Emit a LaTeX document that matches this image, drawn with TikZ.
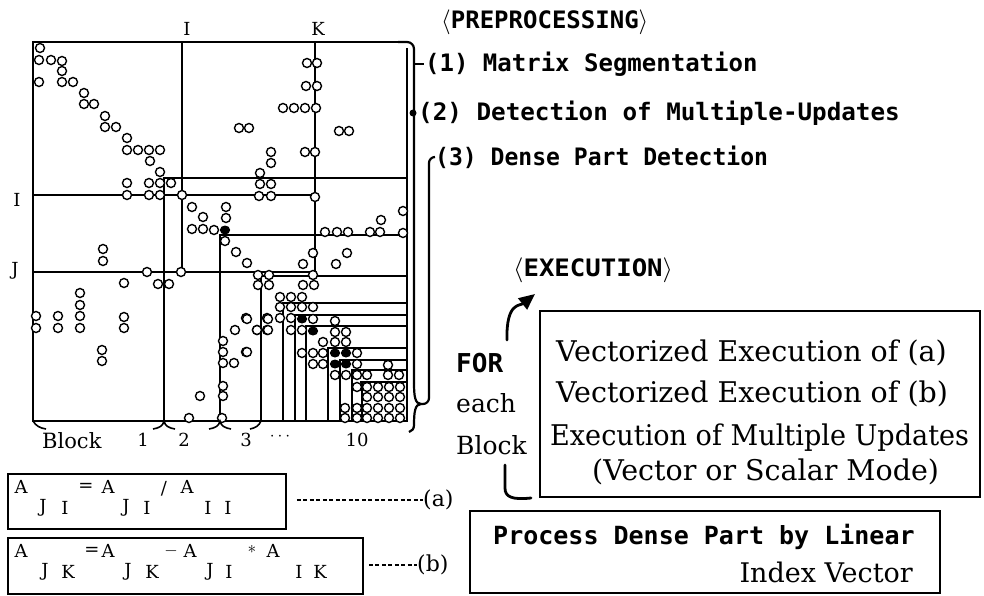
\documentclass[tikz,border=0pt]{standalone}
\usepackage{fontspec}
\usepackage{graphicx}
\usetikzlibrary{arrows.meta}
\newfontfamily\tw{DejaVu Sans Mono}
\newfontfamily\sr{DejaVu Serif}
\begin{document}
\begin{tikzpicture}[x=1pt,y=-1pt,
  mat/.style={line width=1.6pt},
  frm/.style={line width=2.2pt},
  oc/.style={line width=1.4pt, fill=white},
  fc/.style={fill=black},
  mono/.style={font=\tw\bfseries\fontsize{24}{28}\selectfont, inner sep=0pt, anchor=west},
  ser/.style={font=\sr\fontsize{28.5}{32}\selectfont, inner sep=0pt, anchor=west},
  lab/.style={font=\sr\fontsize{18}{22}\selectfont, inner sep=0pt},
  bigbox/.style={draw, line width=2.6pt, inner sep=0pt},
  eqbox/.style={draw, line width=1.8pt, inner sep=0pt, anchor=north west},
  eqt/.style={font=\sr\fontsize{18}{20}\selectfont, inner sep=0pt},
  hook/.style={line width=2.8pt, line cap=round}
]
\useasboundingbox (0,0) rectangle (984,596);

% ---------- matrix frame ----------
\draw[frm] (407,48) -- (407,421) -- (33,421) -- (33,42) -- (400,42);
\draw[frm, rounded corners=7pt] (398,42) -- (414,42) -- (414,383);
% brace for dense part
\draw[frm] (414,383) .. controls (414,396) and (415,404) .. (421,404)
           .. controls (415,404) and (414,412) .. (414,425)
           .. controls (414,429) and (412,431) .. (409,432);
% line to (3)
\draw[frm, rounded corners=6pt] (421,404) -- (429,404) -- (429,157) -- (435,157);
% tick to (1)
\draw[frm] (414,64) -- (424,64);

% ---------- matrix lines ----------
\draw[mat] (182,42) -- (182,272);
\draw[mat] (315,42) -- (315,275);
\draw[mat] (33,195) -- (315,195);
\draw[mat] (33,272) -- (313,272);
\foreach \vx/\hy in {164/178, 220/235, 261/276, 283/303, 295/315, 306/326, 328/348, 340/360, 352/370}{
  \draw[mat] (\vx,421) -- (\vx,\hy) -- (407,\hy);
}
\draw[mat] (360,382) -- (407,382);
\draw[mat] (362,382) -- (362,421);

% ---------- open circles ----------
\foreach \cx/\cy in {
 40/48, 39/60, 51/60, 62/61, 62/71, 39/82, 62/82, 73/82, 84/93, 84/104, 94/104,
 105/116, 105/127, 116/127, 127/138, 127/150, 138/150, 149/150, 160/150, 150/161,
 160/172, 127/183, 149/183, 160/183, 171/183, 127/195, 149/195, 160/195, 182/195,
 192/207, 203/217, 192/229, 203/229, 214/230, 226/207, 226/218, 225/241, 236/252, 247/263,
 103/249, 103/261, 147/272, 181/272, 158/284, 169/284, 124/283, 80/293, 80/305,
 36/316, 58/316, 80/316, 124/317, 36/328, 58/328, 80/328, 124/328, 102/350, 102/361,
 200/396, 189/418,
 223/341, 223/352, 223/363, 234/363, 235/330, 246/318, 246/352, 223/386, 223/396, 222/418,
 257/330, 267/330, 267/318,
 307/63, 317/63, 306/86, 317/86, 283/108, 294/108, 305/108, 316/108, 239/128, 249/128,
 339/131, 349/131, 271/152, 271/163, 305/152, 315/152, 260/173, 260/184, 271/184,
 259/196, 271/196, 315/197, 403/211, 381/220,
 325/232, 337/232, 348/232, 370/232, 380/232, 403/233, 313/253, 303/264, 313/275,
 336/264, 347/253,
 258/275, 269/275, 258/285, 269/285, 303/285, 314/285,
 280/297, 291/297, 302/297, 280/307, 291/307, 302/307, 313/307, 280/318, 291/318, 313/319,
 291/330, 302/330, 247/319, 268/319, 257/330, 268/330, 247/352,
 335/321, 335/332, 346/332, 323/342, 335/342, 346/342,
 302/353, 313/353, 323/353, 357/353, 313/364, 323/364, 357/364,
 335/375, 346/375, 357/375, 367/375, 388/365, 388/375, 399/375,
 357/387, 345/408, 357/408, 345/418, 357/418}{
  \draw[oc] (\cx,\cy) circle[radius=4.5pt];
}
\foreach \cx in {367,378,389,400}{
  \foreach \cy in {387,397,408,418}{
    \draw[oc] (\cx,\cy) circle[radius=4.5pt];
  }
}
% ---------- filled dots (multiple updates) ----------
\foreach \cx/\cy in {225/230, 302/319, 313/331, 335/353, 346/353, 335/364, 346/364}{
  \fill[fc] (\cx,\cy) ellipse[x radius=5.2pt, y radius=4.5pt];
}

% ---------- bottom brace ends ----------
\draw[mat] (33,421) .. controls (36,426) and (40,428) .. (46,429);
\foreach \bx in {164,220}{
  \draw[mat] (\bx-11,429) .. controls (\bx-5,428) and (\bx-1,426) .. (\bx,421)
             .. controls (\bx+1,426) and (\bx+5,428) .. (\bx+11,429);
}
\draw[mat] (250,429) .. controls (255,428) and (259,426) .. (261,421);

% ---------- matrix labels ----------
\node[lab] (tI) at (187,29) {I};
\node[lab] (tK) at (318,29) {K};
\node[lab] (lI) at (17,200) {I};
\node[lab] (lJ) at (15,271) {J};
\node[lab, anchor=west, font=\sr\fontsize{21}{24}\selectfont] (blk) at (42,441) {Block};
\node[lab] (b1) at (143,440) {1};
\node[lab] (b2) at (184,440) {2};
\node[lab] (b3) at (246,440) {3};
\node[lab] (bd) at (280,437) {$\cdots$};
\node[lab] (b10) at (357,440) {10};

% ---------- preprocessing ----------
\node[mono] (pre) at (441,22) {$\langle$PREPROCESSING$\rangle$};
\node[mono] (p1) at (425,64) {(1) Matrix Segmentation};
\fill (413,113) circle[radius=3.5pt];
\node[mono] (p2) at (418,113) {\scalebox{1.01}[1]{(2) Detection of Multiple-Updates}};
\node[mono] (p3) at (435,157) {\scalebox{0.96}[1]{(3) Dense Part Detection}};

% ---------- execution ----------
\node[mono] (exe) at (513,270) {\scalebox{1.07}[1]{$\langle$EXECUTION$\rangle$}};
\node[bigbox, minimum width=440pt, minimum height=186pt] (ebox) at (760,404) {};
\node[ser] (e1) at (556,353) {Vectorized Execution of (a)};
\node[ser] (e2) at (556,394) {Vectorized Execution of (b)};
\node[ser] (e3) at (550,438) {\scalebox{0.95}[1]{Execution of Multiple Updates}};
\node[ser] (e4) at (592,472) {(Vector or Scalar Mode)};

\node[mono, font=\tw\bfseries\fontsize{26}{28}\selectfont] (for) at (456,363) {FOR};
\node[ser, font=\sr\fontsize{25}{28}\selectfont] (each) at (456,403) {each};
\node[ser, font=\sr\fontsize{25}{28}\selectfont] (fblk) at (456,445) {Block};
\coordinate (atip) at (535,294);
\draw[hook, -{Triangle[length=16pt,width=14pt]}] (507,340) .. controls (506,302) and (520,306) .. (atip);
\draw[hook] (505,465) -- (505,488) .. controls (505,497) and (512,500) .. (531,498);

% ---------- dense part box ----------
\node[bigbox, minimum width=470pt, minimum height=82pt] (dbox) at (705,552) {};
\node[mono, font=\tw\bfseries\fontsize{25}{28}\selectfont] (d1) at (493,537) {Process Dense Part by Linear};
\node[ser, font=\sr\fontsize{27}{28}\selectfont, anchor=east] (d2) at (913,572) {Index Vector};

% ---------- equations ----------
\node[eqbox, minimum width=278pt, minimum height=55pt] (eqa) at (7,473) {};
\foreach \x/\y/\t [count=\i] in {21/487/A, 86/487/{=}, 108/487/A, 164/489/{\slash}, 187/487/A,
                                  43/508/J, 65/508/I, 126/508/J, 147/508/I, 208/508/I, 228/508/I}{
  \node[eqt] (ea\i) at (\x,\y) {\t};
}
\node[eqbox, minimum width=355pt, minimum height=56pt] (eqb) at (7,537) {};
\foreach \x/\y/\t [count=\i] in {21/551/A, 92/551/{=}, 108/551/A, 171/551/{$-$}, 190/551/A, 252/549/{$\ast$}, 273/551/A,
                                  45/572/J, 68/572/K, 128/572/J, 152/572/K, 210/572/J, 229/572/I, 299/572/I, 320/572/K}{
  \node[eqt] (eb\i) at (\x,\y) {\t};
}
\node[lab, anchor=west, font=\sr\fontsize{22}{24}\selectfont] (la) at (423,500) {(a)};
\node[lab, anchor=west, font=\sr\fontsize{22}{24}\selectfont] (lb) at (417,565) {(b)};
\draw[line width=1.4pt, dash pattern=on 4pt off 2.5pt, shorten <=10pt] (eqa.east |- la.west) -- (la.west);
\draw[line width=1.4pt, dash pattern=on 4pt off 2.5pt, shorten <=5pt] (eqb.east |- lb.west) -- (lb.west);
\end{tikzpicture}
\end{document}
